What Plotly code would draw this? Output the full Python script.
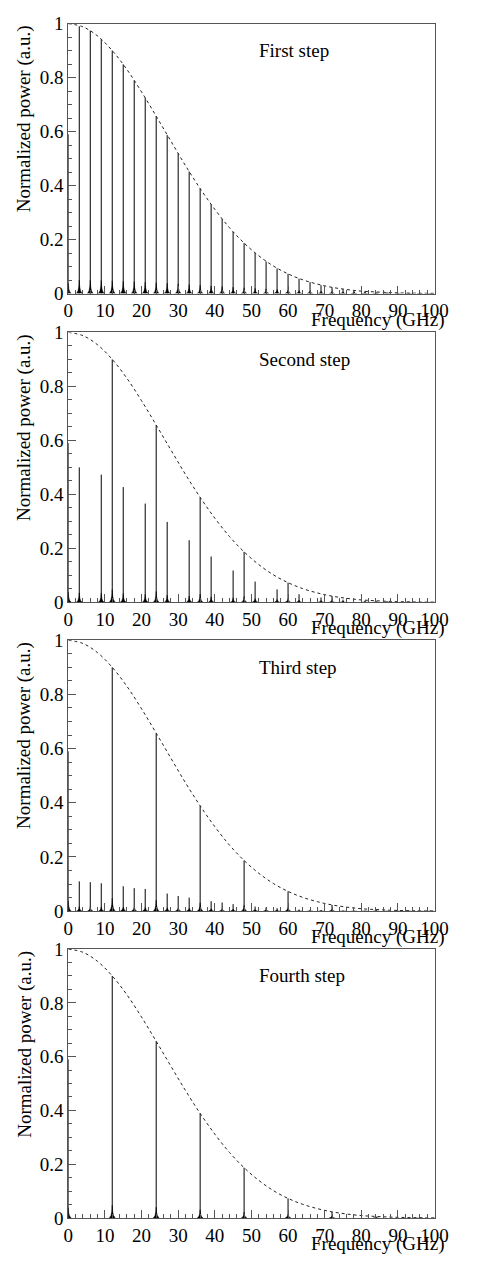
import plotly.graph_objects as go

# ---------------- data ----------------
env_freq = [0, 4, 8, 12, 16, 20, 24, 28, 32, 36, 40, 44, 48, 52, 56, 60, 64, 68, 72, 76, 80, 84, 88, 92, 96, 100]
env_power = [1.000, 0.988, 0.954, 0.900, 0.830, 0.747, 0.657, 0.565, 0.474, 0.389, 0.312, 0.244, 0.187,
             0.140, 0.102, 0.073, 0.051, 0.035, 0.023, 0.015, 0.009, 0.006, 0.0035, 0.002, 0.0012, 0.0007]

step1_freq = [0, 3, 6, 9, 12, 15, 18, 21, 24, 27, 30, 33, 36, 39, 42, 45, 48, 51, 54, 57, 60, 63, 66, 69,
              72, 75, 78, 81, 84, 87, 90, 93, 96, 99]
step1_power = [0.59, 0.990, 0.974, 0.942, 0.900, 0.849, 0.789, 0.725, 0.657, 0.587, 0.519, 0.452, 0.389,
               0.330, 0.276, 0.228, 0.187, 0.150, 0.119, 0.093, 0.073, 0.055, 0.042, 0.031, 0.023, 0.016,
               0.012, 0.008, 0.006, 0.004, 0.003, 0.002, 0.001, 0.001]

step2_freq = [0, 3, 9, 12, 15, 21, 24, 27, 33, 36, 39, 45, 48, 51, 57, 60, 63, 69, 72, 75, 81, 84, 87, 93, 96, 99]
step2_power = [0.59, 0.500, 0.473, 0.900, 0.427, 0.366, 0.657, 0.298, 0.230, 0.389, 0.170, 0.118, 0.187,
               0.077, 0.048, 0.073, 0.030, 0.018, 0.023, 0.010, 0.006, 0.006, 0.004, 0.002, 0.001, 0.001]

step3_freq = [0, 3, 6, 9, 12, 15, 18, 21, 24, 27, 30, 33, 36, 39, 42, 45, 48, 51, 54, 57, 60, 63, 66, 69,
              72, 75, 78, 81, 84, 87, 90, 93, 96, 99]
step3_power = [0.59, 0.110, 0.107, 0.103, 0.900, 0.092, 0.085, 0.082, 0.657, 0.065, 0.056, 0.050, 0.389,
               0.037, 0.032, 0.026, 0.187, 0.017, 0.014, 0.011, 0.073, 0.006, 0.005, 0.004, 0.023, 0.003,
               0.002, 0.002, 0.006, 0.001, 0.001, 0.001, 0.001, 0.001]

step4_freq = [0, 12, 24, 36, 48, 60, 72, 84, 96]
step4_power = [0.59, 0.900, 0.657, 0.389, 0.187, 0.073, 0.023, 0.006, 0.001]

step_labels = ["First step", "Second step", "Third step", "Fourth step"]
x_ticks = [0, 10, 20, 30, 40, 50, 60, 70, 80, 90, 100]
y_ticks = [0, 0.2, 0.4, 0.6, 0.8, 1]
y_tick_text = ["0", "0.2", "0.4", "0.6", "0.8", "1"]
x_title = "Frequency (GHz)"
y_title = "Normalized power (a.u.)"

# ---------------- style ----------------
# figure kept slightly smaller than the 478x1280 window so the page never overflows
W, H = 462, 1264
FONT = "Liberation Serif"
FS = 19
X_LEFT, X_RIGHT = 66, 448
x_dom = [X_LEFT / W, X_RIGHT / W]
panel_px = [(14, 292), (332, 610), (649, 928), (967, 1244)]   # positions in the 1280 px reference
y_doms = [[1 - b / 1280, 1 - t / 1280] for (t, b) in panel_px]
AXCOL = "#555555"
HUMP_DX = [-0.8, -0.35, -0.12, 0, 0.12, 0.35, 0.8]
HUMP_DY = [0, 0.2, 0.5, 1, 0.5, 0.2, 0]
LABEL_X = (263 - X_LEFT) / (X_RIGHT - X_LEFT)
YTITLE_X = (20 - X_LEFT) / (X_RIGHT - X_LEFT)

steps = [(step1_freq, step1_power), (step2_freq, step2_power),
         (step3_freq, step3_power), (step4_freq, step4_power)]

fig = go.Figure()
annotations = []
for i, (fr, pw) in enumerate(steps):
    sfx = "" if i == 0 else str(i + 1)
    xa, ya = "x" + sfx, "y" + sfx

    # base humps of each peak
    hx, hy = [], []
    for f, p in zip(fr, pw):
        hb = 0.05 * p ** 0.5
        hx += [f + d for d in HUMP_DX] + [None]
        hy += [hb * k for k in HUMP_DY] + [None]
    fig.add_trace(go.Scatter(x=hx, y=hy, mode="lines", fill="toself", fillcolor="black",
                             line=dict(color="black", width=0.5), xaxis=xa, yaxis=ya,
                             showlegend=False, hoverinfo="skip"))
    # spikes
    sx, sy = [], []
    for f, p in zip(fr, pw):
        sx += [f, f, None]
        sy += [0, p, None]
    fig.add_trace(go.Scatter(x=sx, y=sy, mode="lines", line=dict(color="black", width=1),
                             xaxis=xa, yaxis=ya, showlegend=False))
    # envelope
    fig.add_trace(go.Scatter(x=env_freq, y=env_power, mode="lines",
                             line=dict(color="#222222", width=1, dash="dot", shape="spline"),
                             xaxis=xa, yaxis=ya, showlegend=False))

    common = dict(showline=True, linecolor=AXCOL, linewidth=1, mirror=True, showgrid=False,
                  zeroline=False, ticks="inside", ticklen=8, tickcolor=AXCOL, tickwidth=1,
                  tickfont=dict(family=FONT, size=FS, color="black"))
    fig.layout["xaxis" + sfx] = dict(domain=x_dom, anchor=ya, range=[0, 100], tickvals=x_ticks,
                                     ticktext=[str(v) for v in x_ticks], ticklabeloverflow="allow",
                                     minor=dict(ticks="inside", ticklen=4, dtick=2, tickcolor=AXCOL),
                                     **common)
    fig.layout["yaxis" + sfx] = dict(domain=y_doms[i], anchor=xa, range=[0, 1], tickvals=y_ticks,
                                     ticktext=y_tick_text,
                                     minor=dict(ticks="inside", ticklen=4, dtick=0.05, tickcolor=AXCOL),
                                     **common)

    annotations.append(dict(text=step_labels[i], xref=xa + " domain", yref=ya, x=LABEL_X, y=0.9,
                            xanchor="left", yanchor="middle", showarrow=False,
                            font=dict(family=FONT, size=FS, color="black")))
    annotations.append(dict(text=x_title, xref=xa + " domain", yref=ya + " domain", x=1, y=0,
                            xanchor="right", yanchor="top", xshift=11, yshift=-13, showarrow=False,
                            font=dict(family=FONT, size=FS, color="black")))
    annotations.append(dict(text=y_title, xref=xa + " domain", yref=ya + " domain", x=YTITLE_X, y=1,
                            xanchor="center", yanchor="top", textangle=-90, showarrow=False,
                            font=dict(family=FONT, size=FS, color="black")))

fig.update_layout(width=W, height=H, autosize=False, margin=dict(l=0, r=0, t=0, b=0),
                  paper_bgcolor="white", plot_bgcolor="white", annotations=annotations,
                  font=dict(family=FONT, size=FS, color="black"))

fig.write_html("out.html")
